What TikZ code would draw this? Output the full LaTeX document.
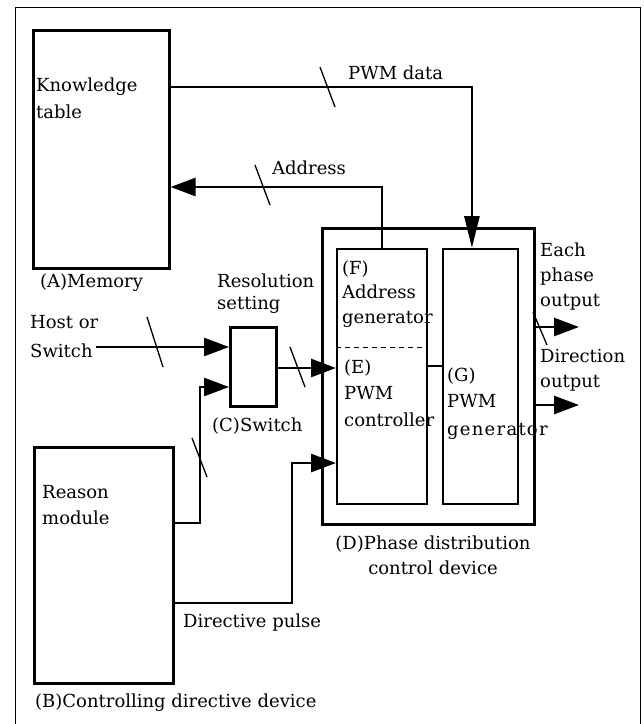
\documentclass[tikz,border=0pt]{standalone}
\usepackage{fontspec}
\setmainfont{DejaVu Serif}
\usetikzlibrary{arrows.meta}
\begin{document}
\begin{tikzpicture}[x=1pt,y=-1pt,
  box/.style={draw, line width=2.6pt, inner sep=0, anchor=north west},
  ibox/.style={draw, line width=1.9pt, inner sep=0, anchor=north west},
  conn/.style={line width=2.8pt},
  arr/.style={conn, -{Triangle[length=25pt,width=18pt]}},
  longarr/.style={conn, -{Triangle[length=32pt,width=15pt]}},
  slash/.style={line width=1.3pt},
  txt/.style={inner sep=0, align=left, anchor=west, font=\fontsize{18}{25}\selectfont},
]
\useasboundingbox (0,0) rectangle (644,724);
\fill[white] (0,0) rectangle (644,724);
\draw[line width=1pt] (15,724) -- (15,7) -- (640,7) -- (640,724);

% boxes
\node[box, minimum width=136pt, minimum height=238pt] (mem) at (32,29) {};
\node[box, minimum width=139pt, minimum height=236pt] (rm) at (33,446) {};
\node[box, minimum width=46pt, minimum height=79pt] (sw) at (229,326) {};
\node[box, minimum width=212pt, minimum height=296pt] (D) at (321,227) {};
\node[ibox, minimum width=90pt, minimum height=255pt] (FE) at (336,248) {};
\node[ibox, minimum width=75pt, minimum height=255pt] (G) at (442,248) {};
\draw[dashed, line width=0.9pt, dash pattern=on 5pt off 4pt] (FE.west |- 0,347) -- (FE.east |- 0,347);

% texts
\node[txt] (kt) at (36,98) {Knowledge\\[2pt]table};
\node[txt] (memlbl) at (40,283) {(A)Memory};
\node[txt] (pwmlbl) at (348,73) {PWM data};
\node[txt] (addrlbl) at (272,168) {Address};
\node[txt] (reslbl) at (217,294) {Resolution\\[-3pt]setting};
\node[txt] (host) at (30,337) {Host or\\[4pt]Switch};
\node[txt] (swlbl) at (212,426) {(C)Switch};
\node[txt] (rmtxt) at (42,505) {Reason\\[1pt]module};
\node[txt] (dplbl) at (183,623) {Directive pulse};
\node[txt] (blbl) at (35,703) {(B)Controlling directive device};
\node[txt, align=center, anchor=center] (dlbl) at (433,555) {(D)Phase distribution\\control device};
\node[txt] (ftxt) at (342,294) {(F)\\[-0.5pt]Address\\[-0.5pt]generator};
\node[txt] (etxt) at (344,393) {(E)\\[1.5pt]PWM\\[1.5pt]controller};
\node[txt] (gtxt) at (447,404) {(G)\\[1pt]PWM\\[3pt]{\addfontfeatures{LetterSpace=7}generator}};
\node[txt] (eptxt) at (540,277) {Each\\phase\\output};
\node[txt] (dirtxt) at (540,370) {Direction\\output};

% free ends
\coordinate (o1) at (579,327);
\coordinate (o2) at (579,405);

% connectors
\draw[longarr] (mem.east |- 0,87) -| ([xshift=-8.5pt]G.north);
\draw[arr] (FE.north) |- (mem.east |- 0,187);
\draw[arr] ([xshift=-3pt]host.east |- 0,347) -- (sw.west |- 0,347);
\draw[arr] (rm.east |- 0,523) -- (200,523) |- (sw.west |- 0,387);
\draw[arr] (sw.east |- 0,368) -- (FE.west |- 0,368);
\draw[arr] (rm.east |- 0,603) -- (292,603) |- (FE.west |- 0,463);
\draw[conn] (FE.east |- 0,366) -- (G.west |- 0,366);
\draw[arr] (D.east |- o1) -- (o1);
\draw[arr] (D.east |- o2) -- (o2);

% bus slashes
\draw[slash] (320,67) -- (335,107);
\draw[slash] (255,165) -- (270,205);
\draw[slash] (147,317) -- (163,367);
\draw[slash] (192,438) -- (207,477);
\draw[slash] (290,347) -- (305,387);
\draw[slash] (533,312) -- (547,345);
\end{tikzpicture}
\end{document}
